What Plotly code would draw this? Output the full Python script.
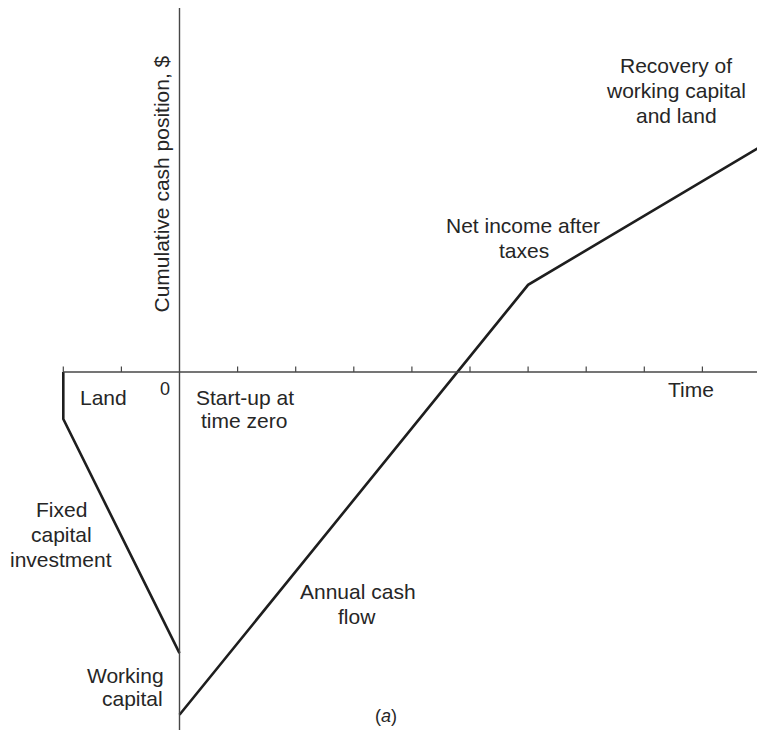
import plotly.graph_objects as go

# Cumulative cash position diagram (a)
# units: one time step = one tick on the time axis
tick_times = [-2, -1, 1, 2, 3, 4, 5, 6, 7, 8, 9]

# land + fixed capital investment before start-up
invest_time = [-2, -2, 0]
invest_cash = [0, -0.81, -4.84]

# after start-up: annual cash flow, net income, recovery
operate_time = [0, 6.0, 10.0]
operate_cash = [-5.90, 1.50, 3.88]

W, H = 757, 730
X0, Y0, S = 179.5, 372.0, 58.1   # pixel of origin, pixels per unit


def ux(p):
    return (p - X0) / S


def uy(p):
    return (Y0 - p) / S


INK = "#1e1e1e"
AXIS = "#474747"
FONT = "Liberation Sans, Arial, Helvetica, sans-serif"

fig = go.Figure()

fig.add_trace(go.Scatter(
    x=invest_time, y=invest_cash, mode="lines",
    line=dict(color=INK, width=2.6), hoverinfo="skip", showlegend=False
))
fig.add_trace(go.Scatter(
    x=operate_time, y=operate_cash, mode="lines",
    line=dict(color=INK, width=2.6), hoverinfo="skip", showlegend=False
))

# axes
shapes = [
    dict(type="line", xref="x", yref="y", x0=tick_times[0], x1=ux(W + 5),
         y0=0, y1=0, line=dict(color=AXIS, width=1.4)),
    dict(type="line", xref="x", yref="y", x0=0, x1=0,
         y0=uy(8), y1=uy(H + 5), line=dict(color=AXIS, width=1.4)),
]
for t in tick_times:
    shapes.append(dict(type="line", xref="x", yref="y", x0=t, x1=t,
                       y0=0, y1=5.5 / S, line=dict(color=AXIS, width=1.2)))

# text labels: (text, centre x px, baseline y px, size)
labels = [
    ("Recovery of", 676, 72, 21),
    ("working capital", 676, 97, 21),
    ("and land", 676, 122, 21),
    ("Net income after", 523, 232, 21),
    ("taxes", 524, 257, 21),
    ("Land", 103.5, 404, 21),
    ("0", 165, 395, 18),
    ("Start-up at", 245, 404, 21),
    ("time zero", 244, 427, 21),
    ("Time", 691, 396, 21),
    ("Fixed", 61, 516, 21),
    ("capital", 61, 541, 21),
    ("investment", 61, 566, 21),
    ("Annual cash", 358, 598, 21),
    ("flow", 357, 623, 21),
    ("Working", 125, 682, 21),
    ("capital", 132, 705, 21),
]

annotations = []
for txt, cx, base, size in labels:
    annotations.append(dict(
        text=txt, x=ux(cx), y=uy(base - 0.33 * size), xref="x", yref="y",
        showarrow=False, xanchor="center", yanchor="middle",
        font=dict(family=FONT, size=size, color="#262626")
    ))

annotations.append(dict(
    text="(<i>a</i>)", x=ux(386), y=uy(716), xref="x", yref="y",
    showarrow=False, xanchor="center", yanchor="middle",
    font=dict(family=FONT, size=18, color="#262626")
))
annotations.append(dict(
    text="Cumulative cash position, $", x=ux(161), y=uy(184.5),
    xref="x", yref="y", showarrow=False, textangle=-90,
    xanchor="center", yanchor="middle",
    font=dict(family=FONT, size=21, color="#262626")
))

fig.update_layout(
    width=W, height=H,
    margin=dict(l=0, r=0, t=0, b=0),
    paper_bgcolor="white", plot_bgcolor="white",
    xaxis=dict(range=[ux(0), ux(W)], visible=False, fixedrange=True),
    yaxis=dict(range=[uy(H), uy(0)], visible=False, fixedrange=True),
    shapes=shapes, annotations=annotations,
    showlegend=False
)

# drop the browser's default body margin so the figure sits at the corner
fig.write_html("out.html",
               config={"displayModeBar": False},
               post_script="document.body.style.margin='0';"
                           "document.body.style.overflow='hidden';")
